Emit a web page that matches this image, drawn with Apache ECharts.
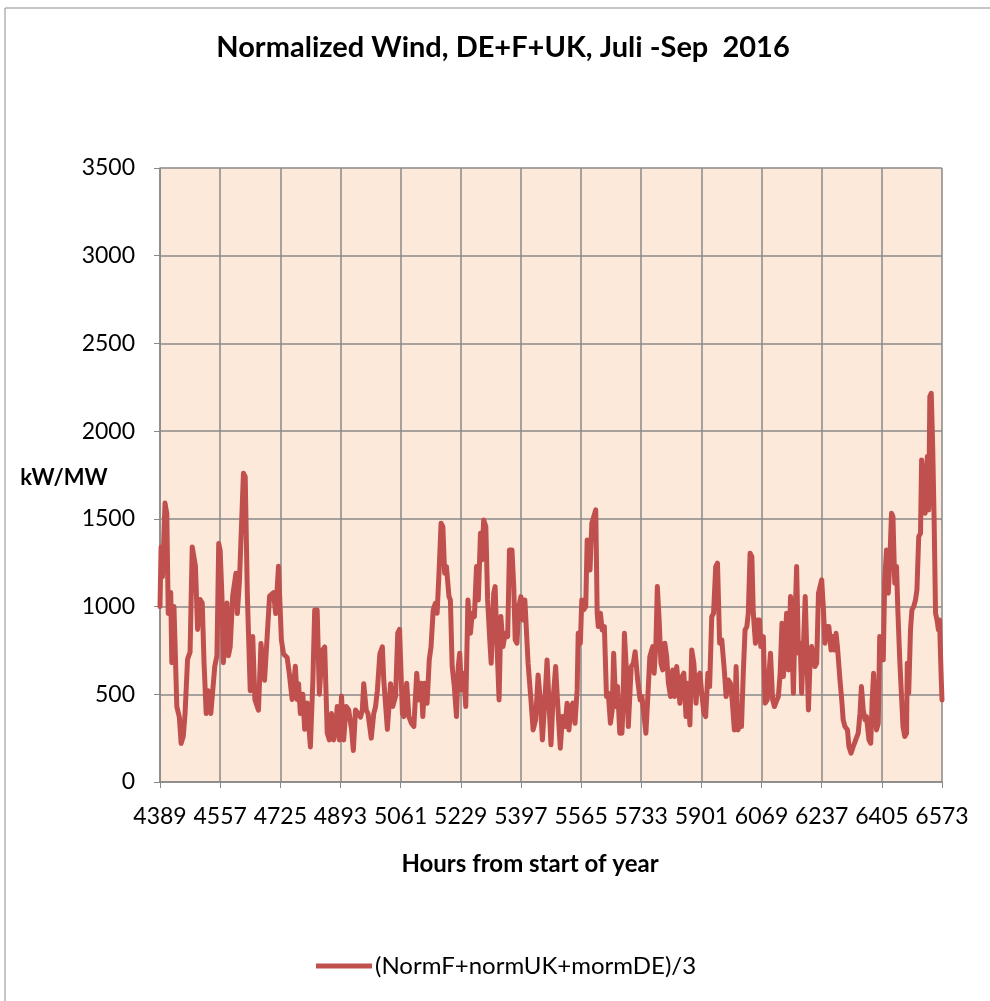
<!DOCTYPE html>
<html>
<head>
<meta charset="utf-8">
<title>Normalized Wind</title>
<script src="https://cdn.jsdelivr.net/npm/echarts@6/dist/echarts.min.js"></script>
<style>
  html, body { margin: 0; padding: 0; background: #fff; }
  #chart { width: 990px; height: 1001px; }
</style>
</head>
<body>
<div id="chart"></div>
<script>
// hours counted from 4389 (start of July)
var startHour = 4389;
var hourOffset = [
    0,3,7,14,19,23,30,33,39,47,
    54,59,65,70,77,84,90,94,99,105,
    112,118,123,129,135,142,147,153,159,164,
    168,173,177,187,191,196,203,212,216,222,
    233,238,244,252,259,265,275,282,292,306,
    317,323,331,
    339,345,355,361,369,378,383,387,392,399,
    404,411,420,427,432,439,445,453,460,467,
    473,479,485,490,495,501,507,513,520,527,
    535,540,546,553,560,565,569,576,581,590,
    597,602,607,614,621,625,635,639,644,650,
    658,664,669,
    677,681,689,695,702,709,717,723,730,734,
    739,746,752,757,763,769,774,780,785,790,
    795,800,807,811,816,822,828,833,837,842,
    848,854,860,867,872,878,884,889,895,899,
    904,910,915,921,925,932,936,941,947,952,
    958,964,971,976,983,988,992,997,1002,1008,
    1013,
    1019,1028,1036,1042,1049,1056,1062,1068,1075,1081,
    1086,1092,1097,1105,1110,1118,1124,1131,1137,1142,
    1148,1153,1159,1165,1168,1174,1178,1183,1189,1193,
    1196,1201,1206,1211,1217,1221,1224,1230,1235,1241,
    1247,1252,1258,1263,1267,1273,1278,1284,1290,1293,
    1297,1304,1308,1316,1322,1327,1334,1341,1346,1351,
    1357,1362,1368,
    1376,1380,1385,1389,1394,1399,1404,1410,1415,1420,
    1426,1432,1437,1443,1449,1452,1458,1463,1469,1474,
    1480,1485,1491,1497,1502,1508,1513,1519,1524,1530,
    1535,1541,1546,1552,1557,1563,1569,1576,1581,1587,
    1593,1598,1604,1609,1614,1618,1624,1629,1634,1639,
    1643,1648,1653,1657,1663,1668,1674,1678,1685,1690,
    1696,1701,1705,1711,1716,
    1723,1727,1732,1737,1741,1746,1750,1755,1761,1764,
    1769,1774,1778,1783,1788,1792,1797,1802,1806,1811,
    1815,1820,1825,1829,1834,1839,1843,1848,1853,1857,
    1862,1868,1874,1878,1883,1888,1892,1899,1904,1908,
    1913,1920,1924,1930,1936,1943,1950,1955,1959,1964,
    1969,1973,1980,1985,1989,1993,1996,2001,2006,2010,
    2015,2020,2024,2029,2034,2038,2043,2047,2052,2057,
    2061,2066,2071,2075,2080,2085,2087,2091,2096,2100,
    2105,2110,2114,2119,2124,2127,2132,2137,2140,2143,
    2147,2150,2154,2158,2162,2166,2170,2174,2177,2182,
    2184
];
// (NormF+normUK+mormDE)/3 in kW/MW
var windAvg = [
    1000,1340,1170,1590,1530,960,1080,680,1000,430,
    370,220,260,390,700,740,1340,1340,1230,870,
    1040,1020,680,390,520,390,390,660,720,1360,
    1320,1060,680,1020,720,770,1060,1190,960,1150,
    1760,1740,1060,520,830,470,410,790,580,1060,
    1080,960,1230,
    810,730,710,620,470,660,470,560,390,500,
    300,450,200,580,980,980,500,750,770,280,
    240,390,240,300,430,240,490,240,430,410,
    300,180,410,390,370,410,560,410,390,250,
    390,430,520,730,770,580,300,300,560,430,
    490,850,870,
    392,373,563,373,335,316,620,468,563,373,
    563,449,696,772,981,1019,962,1228,1475,1456,
    1190,1228,1057,1038,658,544,373,658,734,525,
    620,430,1038,848,962,943,1228,1038,1418,1266,
    1494,1456,1038,810,677,1076,1114,791,468,943,
    772,848,829,1323,1323,1114,810,791,1000,1057,
    924,
    1038,677,468,297,354,610,468,240,468,696,
    468,212,449,658,468,193,373,316,449,297,
    430,449,335,525,848,791,1038,981,1000,1380,
    1380,1209,1475,1475,1551,962,886,962,867,886,
    487,506,335,411,734,430,544,278,278,411,
    848,582,316,658,677,743,582,468,487,392,
    278,468,715,
    772,620,791,1114,924,677,639,791,715,563,
    487,639,487,658,525,449,601,620,373,563,
    325,753,677,449,601,620,506,392,373,620,
    544,943,962,1228,1247,791,810,639,487,582,
    563,468,297,658,297,316,316,620,867,886,
    962,1304,1285,962,791,924,924,772,829,449,
    468,620,734,468,430,
    468,487,620,905,601,601,962,639,1057,848,
    506,962,1228,734,791,506,772,1057,772,411,
    658,772,715,658,677,1076,1076,1152,981,791,
    886,886,753,829,753,848,772,582,468,354,
    316,297,202,164,202,240,278,392,544,411,
    354,373,240,221,468,620,468,297,335,829,
    829,696,1152,1323,1076,1247,1532,1513,1133,1228,
    962,696,487,316,259,278,677,506,867,981,
    1000,1038,1095,1399,1418,1836,1836,1532,1741,1855,
    1551,2197,2216,1912,1494,962,924,867,924,582,
    468
];
var hourStep = 168;
var hourSpan = 2184;
var yTicks = [0, 500, 1000, 1500, 2000, 2500, 3000, 3500];

var fontName = 'Lato, "Open Sans", sans-serif';

var points = [];
for (var i = 0; i < hourOffset.length && i < windAvg.length; i++) {
    points.push([hourOffset[i], windAvg[i]]);
}

var chart = echarts.init(document.getElementById('chart'), null, { renderer: 'canvas' });

chart.setOption({
    backgroundColor: '#fff',
    animation: false,
    textStyle: { fontFamily: fontName },
    graphic: [
        {
            type: 'rect',
            shape: { x: 5, y: 8, width: 1000, height: 1000 },
            style: { fill: 'none', stroke: '#8c8c8c', lineWidth: 1 },
            silent: true
        },
        {
            type: 'text',
            x: 503, y: 48,
            style: {
                text: 'Normalized Wind, DE+F+UK, Juli -Sep  2016',
                font: 'bold 29px ' + fontName,
                fill: '#000',
                textAlign: 'center',
                textVerticalAlign: 'middle'
            }
        },
        {
            // y axis title sits horizontally left of the tick labels
            type: 'text',
            x: 64, y: 478,
            style: {
                text: 'kW/MW',
                font: 'bold 22px ' + fontName,
                fill: '#000',
                textAlign: 'center',
                textVerticalAlign: 'middle'
            }
        },
        {
            type: 'text',
            x: 530, y: 864,
            style: {
                text: 'Hours from start of year',
                font: 'bold 24px ' + fontName,
                fill: '#000',
                textAlign: 'center',
                textVerticalAlign: 'middle'
            }
        }
    ],
    legend: {
        left: 316,
        top: 954,
        padding: 0,
        icon: 'rect',
        itemWidth: 56,
        itemHeight: 5,
        textStyle: { fontSize: 24, color: '#000', fontFamily: fontName, padding: [0, 0, 0, -2] },
        data: ['(NormF+normUK+mormDE)/3']
    },
    grid: {
        left: 160,
        top: 168,
        width: 782,
        height: 614,
        show: true,
        backgroundColor: '#FDE9D9',
        borderWidth: 0,
        containLabel: false,
        outerBoundsMode: 'none'
    },
    xAxis: {
        type: 'value',
        min: 0,
        max: hourSpan,
        interval: hourStep,
        axisLine: { show: true, lineStyle: { color: '#888', width: 1.5 } },
        axisTick: { show: true, length: 6, lineStyle: { color: '#888' } },
        splitLine: { show: true, lineStyle: { color: '#888', width: 1.5 } },
        axisLabel: {
            color: '#000',
            fontSize: 23,
            margin: 23,
            showMinLabel: true,
            showMaxLabel: true,
            formatter: function(v) {
                return String(v + startHour);
            }
        }
    },
    yAxis: {
        type: 'value',
        min: yTicks[0],
        max: yTicks[yTicks.length - 1],
        interval: 500,
        axisLine: { show: true, lineStyle: { color: '#888', width: 1.5 } },
        axisTick: { show: true, length: 6, lineStyle: { color: '#888' } },
        splitLine: { show: true, lineStyle: { color: '#888', width: 1.5 } },
        axisLabel: {
            color: '#000',
            fontSize: 23,
            margin: 25,
            formatter: function(v) {
                return String(v);
            }
        }
    },
    series: [{
        name: '(NormF+normUK+mormDE)/3',
        type: 'line',
        data: points,
        showSymbol: false,
        symbol: 'none',
        color: '#C0504D',
        lineStyle: { color: '#C0504D', width: 5, join: 'round', cap: 'round' }
    }]
});
</script>
</body>
</html>
